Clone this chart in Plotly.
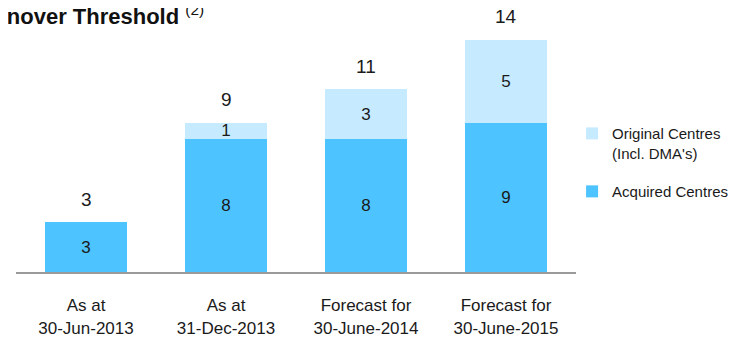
import plotly.graph_objects as go

categories = ["As at<br>30-Jun-2013", "As at<br>31-Dec-2013",
              "Forecast for<br>30-June-2014", "Forecast for<br>30-June-2015"]
acquired = [3, 8, 8, 9]
original = [None, 1, 3, 5]
totals = [3, 9, 11, 14]

FONT = "Liberation Sans, Arial, sans-serif"
TXT = "#1a1a1a"
C_ACQ = "rgb(77,195,255)"
C_ORIG = "rgb(198,234,255)"

fig = go.Figure()
fig.add_trace(go.Bar(
    x=categories, y=acquired, name="Acquired Centres",
    legendgroup="a", legendrank=2,
    marker=dict(color=C_ACQ, line=dict(width=0)),
    text=[str(v) for v in acquired], textposition="inside",
    insidetextanchor="middle", textangle=0,
    textfont=dict(family=FONT, size=17, color=TXT),
))
fig.add_trace(go.Bar(
    x=categories, y=original, name="Original Centres<br>(Incl. DMA's)",
    legendgroup="o", legendrank=1,
    marker=dict(color=C_ORIG, line=dict(width=0)),
    text=[str(v) if v else "" for v in original], textposition="inside",
    insidetextanchor="middle", textangle=0,
    textfont=dict(family=FONT, size=17, color=TXT),
))

for c, t in zip(categories, totals):
    fig.add_annotation(x=c, y=t, text=str(t), showarrow=False,
                       yanchor="middle", yshift=23,
                       font=dict(family=FONT, size=19, color=TXT))

# Title (cut off at left edge as in the original)
fig.add_annotation(xref="paper", yref="paper", x=0.339, y=1.0605,
                   xanchor="right", yanchor="middle", showarrow=False,
                   text="<b>Turnover Threshold</b> <sup>(2)</sup>",
                   font=dict(family=FONT, size=22, color="#111"))

# page has an 8px body margin: figure is 8px smaller and offsets compensated
fig.update_layout(
    width=732, height=329,
    margin=dict(l=8, r=164, t=22, b=65, autoexpand=False),
    barmode="stack", bargap=0.414,
    plot_bgcolor="white", paper_bgcolor="white",
    uniformtext=dict(minsize=17, mode="show"),
    showlegend=True,
    legend=dict(x=0.993, xanchor="left", y=0.64, yanchor="top",
                traceorder="grouped", tracegroupgap=16, valign="top",
                font=dict(family=FONT, size=15, color=TXT),
                bgcolor="rgba(0,0,0,0)"),
    font=dict(family=FONT, color=TXT),
)
fig.update_xaxes(showline=True, linecolor="#9a9a9a", linewidth=2,
                 showgrid=False, ticks="", ticklabelstandoff=17,
                 tickfont=dict(family=FONT, size=17, color=TXT))
fig.update_yaxes(visible=False, range=[0, 242 / 16.6], showgrid=False, zeroline=False)

fig.write_html("out.html")
